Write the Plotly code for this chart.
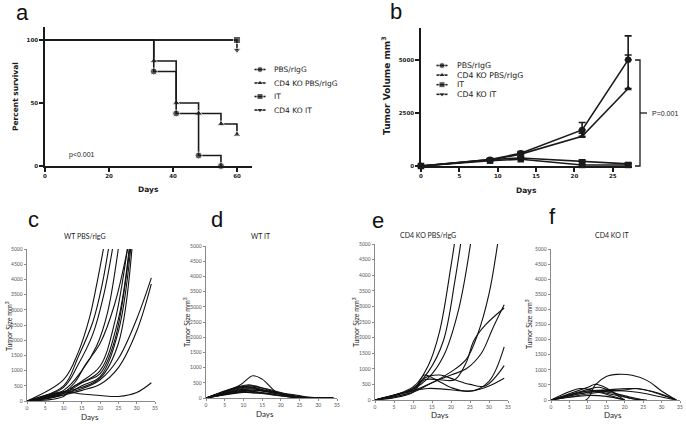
import plotly.graph_objects as go

W, H = 686, 424

# ---------------- DATA ----------------
# Panel a: Kaplan-Meier survival
surv_groups = ["PBS/rIgG", "CD4 KO PBS/rIgG", "IT", "CD4 KO IT"]
surv_days_pbs = [0, 34, 41, 48, 55]
surv_pct_pbs = [100, 75, 41.7, 8.3, 0]
surv_days_cd4 = [0, 34, 41, 48, 55, 60]
surv_pct_cd4 = [100, 83.3, 50, 41.7, 33.3, 25]
surv_days_it = [0, 60]
surv_pct_it = [100, 100]
surv_days_cd4it = [0, 60, 60]
surv_pct_cd4it = [100, 100, 92]   # censor symbol drawn just below the IT square
a_xticks = [0, 20, 40, 60]
a_yticks = [0, 50, 100]

# Panel b: mean tumor volume
vol_days = [0, 9, 13, 21, 27]
vol_pbs = [0, 300, 600, 1700, 5000]
vol_pbs_err = [0, 50, 80, 350, 1130]
vol_cd4 = [0, 280, 560, 1400, 3650]
vol_cd4_err = [0, 40, 60, 150, 1580]
vol_it = [0, 250, 320, 50, 50]
vol_it_err = [0, 30, 50, 30, 30]
vol_cd4it = [0, 300, 380, 200, 100]
vol_cd4it_err = [0, 40, 60, 90, 40]
b_xticks = [0, 5, 10, 15, 20, 25]
b_yticks = [0, 2500, 5000]

# Panels c-f: individual tumour growth curves
c_days = [
    [0, 10, 14, 17, 19, 21.5], [0, 10, 14, 18, 20.5, 22.8], [0, 10, 14, 18, 21, 23.8],
    [0, 10, 15, 19, 22, 25.3], [0, 10, 15, 20, 24, 27.8], [0, 10, 15, 20, 25, 28.2],
    [0, 10, 15, 20, 25, 28.6], [0, 10, 15, 20, 25, 28.9], [0, 10, 13, 17, 20, 24, 28.4],
    [0, 10, 15, 20, 25, 30, 34], [0, 10, 15, 20, 25, 30, 34], [0, 10, 15, 20, 25, 30, 34],
    [0, 9, 13, 16, 20, 24, 28],
]
c_sizes = [
    [0, 700, 1600, 2700, 3800, 5400], [0, 500, 1450, 2600, 3800, 5400], [0, 450, 1200, 2200, 3500, 5300],
    [0, 350, 1000, 1800, 2900, 5300], [0, 300, 650, 1150, 2600, 5300], [0, 250, 600, 1000, 2700, 5300],
    [0, 200, 500, 800, 2300, 5300], [0, 300, 450, 750, 1900, 5300], [0, 150, 500, 700, 900, 2000, 5300],
    [0, 250, 400, 700, 1400, 2700, 4050], [0, 200, 350, 550, 1100, 2300, 3850], [0, 300, 230, 180, 150, 280, 600],
    [0, 200, 600, 1200, 1900, 3200, 5300],
]
d_days = [
    [0, 9, 12.5, 15, 19, 23, 27, 34], [0, 11, 13, 17, 20, 25, 34], [0, 11, 13, 17, 20, 25, 34],
    [0, 10, 13, 16, 20, 24, 30, 34], [0, 10, 12, 16, 20, 25], [0, 11, 14, 18, 22, 27],
    [0, 10, 13, 17, 21, 26, 34], [0, 10, 12, 15, 19, 24], [0, 11, 13, 16, 20, 25],
    [0, 10, 12, 16, 20, 26], [0, 10, 13, 17, 22, 28, 34], [0, 12, 15, 19, 24, 30, 34],
    [0, 9, 12, 16, 21, 26, 34],
]
d_sizes = [
    [0, 420, 730, 620, 180, 50, 0, 0], [0, 430, 400, 250, 150, 20, 0], [0, 400, 380, 280, 180, 30, 0],
    [0, 350, 340, 250, 150, 40, 0, 0], [0, 320, 330, 230, 120, 0], [0, 300, 280, 200, 100, 0],
    [0, 280, 250, 200, 120, 10, 0], [0, 250, 230, 170, 100, 0], [0, 220, 200, 150, 80, 0],
    [0, 200, 180, 130, 70, 0], [0, 180, 170, 160, 130, 20, 0], [0, 260, 240, 160, 60, 0, 0],
    [0, 380, 360, 220, 100, 10, 0],
]
e_days = [
    [0, 10, 14, 17, 20, 21.5], [0, 10, 14, 18, 21, 23], [0, 10, 14, 18, 22, 25.5],
    [0, 10, 15, 20, 24, 27, 30, 32.5], [0, 10, 13, 17, 21, 24, 26, 29, 34], [0, 10, 15, 20, 24, 28, 31, 34],
    [0, 10, 13, 16, 20, 25, 30, 34], [0, 10, 13, 17, 21, 25, 29, 34], [0, 10, 14, 18, 22, 26, 30, 34],
]
e_sizes = [
    [0, 420, 1100, 2200, 4300, 5500], [0, 380, 900, 1900, 3800, 5400], [0, 350, 700, 1400, 2900, 5300],
    [0, 300, 550, 900, 1300, 2100, 3400, 5200], [0, 350, 650, 650, 650, 1200, 1900, 2400, 2950],
    [0, 250, 550, 800, 1000, 1500, 2300, 3050],
    [0, 300, 800, 650, 400, 280, 600, 1700], [0, 250, 700, 800, 650, 500, 450, 1100],
    [0, 300, 370, 350, 300, 300, 450, 700],
]
f_days = [
    [0, 9.5, 12, 15, 18, 22, 26, 30, 34], [0, 10, 12, 15, 18, 20], [0, 10, 14, 18, 22, 25, 28, 34],
    [0, 10, 15, 20, 23, 27, 31, 34], [0, 8, 12, 16, 20, 23, 26], [0, 10, 13, 16, 20],
    [0, 10, 14, 18, 22, 25], [0, 12, 16, 20, 24, 28, 34], [0, 10, 15, 20], [0, 10, 13, 17, 20, 24],
]
f_sizes = [
    [0, 0, 500, 780, 850, 820, 650, 300, 0], [0, 420, 520, 400, 150, 0], [0, 300, 330, 360, 380, 350, 250, 0],
    [0, 250, 280, 330, 380, 300, 150, 0], [0, 380, 300, 200, 100, 30, 0], [0, 200, 250, 150, 0],
    [0, 300, 280, 200, 80, 0], [0, 300, 320, 300, 250, 150, 0], [0, 150, 120, 0], [0, 350, 420, 250, 100, 0],
]
growth_titles = ["WT PBS/rIgG", "WT IT", "CD4 KO PBS/rIgG", "CD4 KO IT"]
growth_xticks = [0, 5, 10, 15, 20, 25, 30, 35]
growth_yticks = [0, 500, 1000, 1500, 2000, 2500, 3000, 3500, 4000, 4500, 5000]

# ---------------- FIGURE ----------------
fig = go.Figure()
INK = "#1a1a1a"
GP_FONT = "DejaVu Sans"
XL_FONT = "Lato"


def dx(a, b):
    return [a / W, b / W]


def dy(top, bot):
    return [1 - bot / H, 1 - top / H]


# Panel a traces
sym = ["circle", "triangle-up", "square", "triangle-down"]
fig.add_trace(go.Scatter(x=surv_days_cd4it, y=surv_pct_cd4it, mode="lines+markers", xaxis="x", yaxis="y",
                         line=dict(color=INK, width=1.6), marker=dict(symbol=sym[3], size=[0, 0, 7], color=INK),
                         cliponaxis=False, showlegend=False))
fig.add_trace(go.Scatter(x=surv_days_it, y=surv_pct_it, mode="lines+markers", xaxis="x", yaxis="y",
                         line=dict(color=INK, width=1.6, shape="hv"), marker=dict(symbol=sym[2], size=[0, 7], color=INK),
                         cliponaxis=False, showlegend=False))
fig.add_trace(go.Scatter(x=surv_days_cd4, y=surv_pct_cd4, mode="lines+markers", xaxis="x", yaxis="y",
                         line=dict(color=INK, width=1.6, shape="hv"),
                         marker=dict(symbol=sym[1], size=[0] + [7] * (len(surv_days_cd4) - 1), color=INK),
                         cliponaxis=False, showlegend=False))
fig.add_trace(go.Scatter(x=surv_days_pbs, y=surv_pct_pbs, mode="lines+markers", xaxis="x", yaxis="y",
                         line=dict(color=INK, width=1.6, shape="hv"),
                         marker=dict(symbol=sym[0], size=[0] + [7] * (len(surv_days_pbs) - 1), color=INK),
                         cliponaxis=False, showlegend=False))

# Panel b traces
for yv, ev, s in [(vol_it, vol_it_err, sym[2]), (vol_cd4it, vol_cd4it_err, sym[3]),
                  (vol_cd4, vol_cd4_err, sym[1]), (vol_pbs, vol_pbs_err, sym[0])]:
    fig.add_trace(go.Scatter(x=vol_days, y=yv, mode="lines+markers", xaxis="x2", yaxis="y2",
                             line=dict(color=INK, width=1.6), marker=dict(symbol=s, size=6.5, color=INK),
                             error_y=dict(type="data", array=ev, arrayminus=[0] * len(ev), symmetric=False,
                                          color=INK, thickness=1.6, width=3.5),
                             cliponaxis=False, showlegend=False))

# Panels c-f traces
for ax, (days_l, size_l) in zip(["3", "4", "5", "6"],
                                [(c_days, c_sizes), (d_days, d_sizes), (e_days, e_sizes), (f_days, f_sizes)]):
    for xs, ys in zip(days_l, size_l):
        fig.add_trace(go.Scatter(x=xs, y=ys, mode="lines", xaxis="x" + ax, yaxis="y" + ax,
                                 line=dict(color="#111111", width=1.1, shape="spline", smoothing=1.0),
                                 showlegend=False))

# Manual legends on a pixel overlay axis
leg_specs = [(260, 69.5, 13.5, 272), (442, 65.5, 9.6, 455)]
for (lx, ly0, dyrow, tx) in leg_specs:
    for i, s in enumerate(sym):
        yy = ly0 + i * dyrow
        fig.add_trace(go.Scatter(x=[lx - 5.5, lx, lx + 5.5], y=[yy, yy, yy], mode="lines+markers",
                                 xaxis="x7", yaxis="y7", line=dict(color=INK, width=1.6),
                                 marker=dict(symbol=s, size=[0, 6, 0], color=INK),
                                 cliponaxis=False, showlegend=False, hoverinfo="skip"))

# ---------------- AXES ----------------
gp_axis = dict(showline=True, linecolor=INK, linewidth=1.6, ticks="outside", ticklen=4, tickwidth=1.6,
               tickcolor=INK, showgrid=False, zeroline=False, automargin=False,
               tickfont=dict(family=GP_FONT, size=5.5, color=INK, weight="bold"))
xl_axis = dict(showline=True, linecolor="#8a8a8a", linewidth=0.8, ticks="outside", ticklen=2.5, tickwidth=0.8,
               tickcolor="#8a8a8a", showgrid=False, zeroline=False, automargin=False,
               tickfont=dict(family=XL_FONT, size=5, color="#555555"))

layout_axes = dict(
    xaxis=dict(gp_axis, domain=dx(45, 252), range=[0, 64.7], tickvals=a_xticks, anchor="y"),
    yaxis=dict(gp_axis, domain=dy(27, 166), range=[0, 110.3], tickvals=a_yticks, anchor="x"),
    xaxis2=dict(gp_axis, domain=dx(421, 632), range=[0, 27.5], tickvals=b_xticks, anchor="y2"),
    yaxis2=dict(gp_axis, domain=dy(28, 166), range=[0, 6500], tickvals=b_yticks, anchor="x2"),
    xaxis3=dict(xl_axis, domain=dx(27, 155), range=[0, 35], tickvals=growth_xticks, anchor="y3"),
    yaxis3=dict(xl_axis, domain=dy(249, 401), range=[0, 5000], tickvals=growth_yticks, anchor="x3"),
    xaxis4=dict(xl_axis, domain=dx(206, 337), range=[0, 35], tickvals=growth_xticks, anchor="y4"),
    yaxis4=dict(xl_axis, domain=dy(246, 398), range=[0, 5000], tickvals=growth_yticks, anchor="x4"),
    xaxis5=dict(xl_axis, domain=dx(375, 508), range=[0, 35], tickvals=growth_xticks, anchor="y5"),
    yaxis5=dict(xl_axis, domain=dy(244, 400), range=[0, 5000], tickvals=growth_yticks, anchor="x5"),
    xaxis6=dict(xl_axis, domain=dx(551, 680), range=[0, 35], tickvals=growth_xticks, anchor="y6"),
    yaxis6=dict(xl_axis, domain=dy(249, 400), range=[0, 5000], tickvals=growth_yticks, anchor="x6"),
    xaxis7=dict(domain=[0, 1], range=[0, W], visible=False, anchor="y7", fixedrange=True, automargin=False),
    yaxis7=dict(domain=[0, 1], range=[H, 0], visible=False, anchor="x7", fixedrange=True, automargin=False),
)

# ---------------- TEXT ----------------
ann = []


def txt(x, y, s, size, family, color=INK, angle=0, xanchor="center", weight="normal"):
    ann.append(dict(x=x, y=y, xref="x7", yref="y7", text=s, showarrow=False, textangle=angle,
                    xanchor=xanchor, yanchor="middle",
                    font=dict(family=family, size=size, color=color, weight=weight)))


# panel letters
for lt, (lx, ly) in zip("abcdef", [(22, 12), (396, 11), (33, 219), (217, 219), (378, 220), (552, 216)]):
    txt(lx, ly, lt, 22, "Liberation Sans", "#111111")

# panel a/b texts
txt(15, 97, "Percent survival", 7.5, GP_FONT, angle=-90, weight="bold")
txt(148, 189, "Days", 7.5, GP_FONT, weight="bold")
txt(82, 155, "p<0.001", 7, "Liberation Sans", "#222222")
txt(386, 86, "Tumor Volume mm<sup>3</sup>", 9, GP_FONT, angle=-90, weight="bold")
txt(526, 190, "Days", 7.5, GP_FONT, weight="bold")
txt(650, 113, "P=0.001", 7, "Liberation Sans", "#222222", xanchor="left")
for (lx, ly0, dyrow, tx), fs in zip(leg_specs, [7.5, 7.8]):
    for i, name in enumerate(surv_groups):
        txt(tx, ly0 + i * dyrow, name, fs, GP_FONT, "#222222", xanchor="left")

# panels c-f texts
for t, (tx_, ty_), (yx, yy), (dx_, dy_) in zip(
        growth_titles,
        [(85, 236), (261, 236), (428, 235), (612, 235)],
        [(8, 326), (186, 322), (355, 322), (528, 324)],
        [(90, 417), (265, 414), (440, 415), (613, 415)]):
    txt(tx_, ty_, t, 7, XL_FONT, "#222222")
    txt(yx, yy, "Tumor Size mm<sup>3</sup>", 7, XL_FONT, "#222222", angle=-90)
    txt(dx_, dy_, "Days", 8, XL_FONT, "#222222")

# bracket in panel b
shapes = [
    dict(type="path", path="M 635 60 L 640 60 L 640 166 L 635 166", xref="x7", yref="y7",
         line=dict(color=INK, width=1.3)),
    dict(type="line", x0=640, x1=647, y0=113, y1=113, xref="x7", yref="y7", line=dict(color=INK, width=1.3)),
]

fig.update_layout(width=W, height=H, margin=dict(l=0, r=0, t=0, b=0),
                  paper_bgcolor="white", plot_bgcolor="rgba(0,0,0,0)",
                  showlegend=False, annotations=ann, shapes=shapes, **layout_axes)

fig.write_html("out.html", config={"displayModeBar": False},
               post_script="document.body.style.margin='0';document.body.style.overflow='hidden';")
